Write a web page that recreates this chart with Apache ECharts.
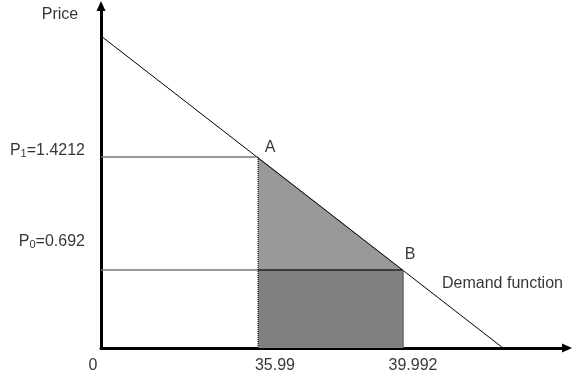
<!DOCTYPE html>
<html>
<head>
<meta charset="utf-8">
<script src="https://cdn.jsdelivr.net/npm/echarts@6/dist/echarts.min.js"></script>
<style>html,body{margin:0;padding:0;background:#fff}#c{width:573px;height:373px}</style>
</head>
<body>
<div id="c"></div>
<script>
// Schematic diagram: positions are in schematic axis units (0..100), values shown as labels
var quantityLabels = ['0', '35.99', '39.992'];
var quantityPos = [0, 33.69, 64.81];
var priceLabels = ['P1=1.4212', 'P0=0.692'];
var pricePos = [55.85, 22.81];
var pointNames = ['A', 'B'];
var demandIntercepts = [[0, 91.23], [86.27, 0]];
var axisTitles = ['Price'];

var qA = quantityPos[1], qB = quantityPos[2];
var pA = pricePos[0], pB = pricePos[1];

var font = 'Liberation Sans, Arial, sans-serif';

function lineSeries(data, color, width, type) {
  return {type: 'line', data: data, symbol: 'none', silent: true, animation: false,
    lineStyle: {color: color, width: width, type: type || 'solid'}, z: 5};
}

function polySeries(points, fill, z) {
  return {type: 'custom', animation: false, silent: true, z: z,
    data: [0],
    renderItem: function (params, api) {
      return {type: 'polygon', shape: {points: points.map(function (p) { return api.coord(p); })},
        style: {fill: fill, stroke: null}};
    }};
}

function labelSeries(points, texts, opts) {
  return {type: 'scatter', symbolSize: 1, itemStyle: {color: 'rgba(0,0,0,0)'}, silent: true, animation: false, z: 10,
    data: points.map(function (p, i) {
      var o = opts[i];
      return {value: p, label: {show: true, formatter: texts[i], position: 'inside', offset: o.offset,
        align: o.align || 'center', verticalAlign: 'middle', fontFamily: font, fontSize: 16, color: '#000',
        rich: o.rich}};
    })};
}

var rich = {
  a: {fontFamily: font, fontSize: 16, color: '#000'},
  s: {fontFamily: font, fontSize: 11, color: '#000', verticalAlign: 'bottom', padding: [6, 0, 0, 0]}
};

var axisLineStyle = {show: true, onZero: false, lineStyle: {color: '#000', width: 3},
  symbol: ['none', 'triangle'], symbolSize: [9, 10]};

var chart = echarts.init(document.getElementById('c'), null, {renderer: 'canvas'});
chart.setOption({
  animation: false,
  backgroundColor: '#fff',
  grid: {left: 101, right: 6, top: 6, bottom: 25},
  xAxis: {type: 'value', min: 0, max: 100, splitLine: {show: false}, axisTick: {show: false}, axisLabel: {show: false},
    axisLine: axisLineStyle},
  yAxis: {type: 'value', min: 0, max: 100, splitLine: {show: false}, axisTick: {show: false}, axisLabel: {show: false},
    axisLine: axisLineStyle},
  series: [
    polySeries([[qA, pA], [qB, pB], [qA, pB]], '#999999', 1),
    polySeries([[qA, pB], [qB, pB], [qB, 0], [qA, 0]], '#808080', 1),
    lineSeries(demandIntercepts, '#000', 1),
    lineSeries([[0, pA], [qA, pA]], '#777', 1.5),
    lineSeries([[0, pB], [qA, pB]], '#777', 1.5),
    lineSeries([[qA, pB], [qB, pB]], '#222', 1.5),
    lineSeries([[qA, 0], [qA, pA]], '#000', 1, 'dotted'),
    lineSeries([[qB, 0], [qB, pB]], '#666', 1.5),
    labelSeries(quantityPos.map(function (q) { return [q, 0]; }), quantityLabels,
      [{offset: [-8, 18]}, {offset: [17, 18]}, {offset: [10, 18]}]),
    labelSeries([[0, pA], [0, pB]],
      ['{a|P}{s|1}{a|=1.4212}', '{a|P}{s|0}{a|=0.692}'],
      [{offset: [-16, -6], align: 'right', rich: rich}, {offset: [-16, -28], align: 'right', rich: rich}]),
    labelSeries([[qA, pA], [qB, pB]], pointNames, [{offset: [12, -9]}, {offset: [7, -15]}]),
    labelSeries([[qB, pB]], ['Demand function'], [{offset: [39, 14], align: 'left'}]),
    labelSeries([[0, 100]], axisTitles, [{offset: [-41, 9]}])
  ]
});
</script>
</body>
</html>
